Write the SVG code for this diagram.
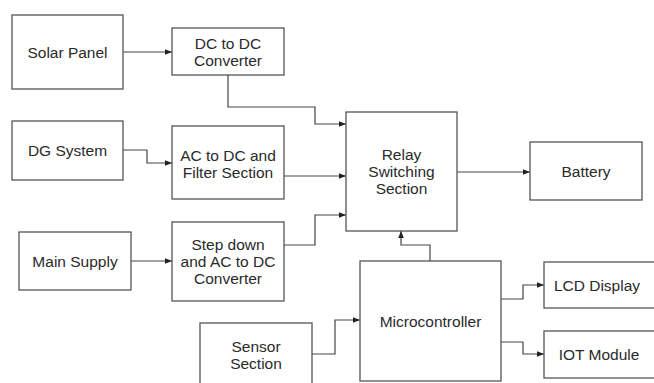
<svg xmlns="http://www.w3.org/2000/svg" width="654" height="383" viewBox="0 0 654 383">
<style>
.box{fill:#fff;stroke:#555;stroke-width:1.3}
.t{font-family:"Liberation Sans",Arial,sans-serif;font-size:15.5px;fill:#2a2a2a;text-anchor:middle}
.c{fill:none;stroke:#444;stroke-width:1.2;marker-end:url(#ah)}
</style>
<defs>
<marker id="ah" viewBox="0 0 10 10" refX="10" refY="5" markerWidth="7" markerHeight="7" markerUnits="userSpaceOnUse" orient="auto">
<path d="M0,1 L10,5 L0,9 z" fill="#222"/>
</marker>
</defs>
<rect width="654" height="383" fill="#fff"/>
<g id="connectors">
<path class="c" d="M123,52 H172"/>
<path class="c" d="M228,75 V107 H315 V124 H346"/>
<path class="c" d="M123,150 H147 V163 H172"/>
<path class="c" d="M284,176 H346"/>
<path class="c" d="M131,261 H172"/>
<path class="c" d="M284,245 H315 V215 H346"/>
<path class="c" d="M457,172 H530"/>
<path class="c" d="M312,354 H335 V320 H360"/>
<path class="c" d="M430,261 V245 H401 V231"/>
<path class="c" d="M501,299 H523 V285 H544"/>
<path class="c" d="M501,342 H523 V354 H544"/>
</g>
<g id="solar"><rect class="box" x="12" y="15" width="111" height="74"/><text class="t" x="67.5" y="57.5">Solar Panel</text></g>
<g id="dcdc"><rect class="box" x="172" y="28" width="112" height="47"/><text class="t" x="228" y="48.5">DC to DC</text><text class="t" x="228" y="66">Converter</text></g>
<g id="dg"><rect class="box" x="12" y="121" width="111" height="59"/><text class="t" x="67.5" y="155.5">DG System</text></g>
<g id="acdc"><rect class="box" x="172" y="126" width="112" height="73"/><text class="t" x="228" y="160.5">AC to DC and</text><text class="t" x="228" y="177.5">Filter Section</text></g>
<g id="main"><rect class="box" x="19" y="232" width="112" height="58"/><text class="t" x="75" y="266.5">Main Supply</text></g>
<g id="stepdown"><rect class="box" x="172" y="222" width="112" height="79"/><text class="t" x="228" y="250">Step down</text><text class="t" x="228" y="267">and AC to DC</text><text class="t" x="228" y="284">Converter</text></g>
<g id="relay"><rect class="box" x="346" y="112" width="111" height="119"/><text class="t" x="401.5" y="160">Relay</text><text class="t" x="401.5" y="177">Switching</text><text class="t" x="401.5" y="194">Section</text></g>
<g id="battery"><rect class="box" x="530" y="142" width="112" height="58"/><text class="t" x="586" y="177">Battery</text></g>
<g id="sensor"><rect class="box" x="200" y="323" width="112" height="70"/><text class="t" x="256" y="352">Sensor</text><text class="t" x="256" y="369">Section</text></g>
<g id="micro"><rect class="box" x="360" y="261" width="141" height="120"/><text class="t" x="430.5" y="326.5">Microcontroller</text></g>
<g id="lcd"><rect class="box" x="544" y="262" width="120" height="46"/><text class="t" x="597" y="290.5">LCD Display</text></g>
<g id="iot"><rect class="box" x="544" y="331" width="120" height="47"/><text class="t" x="599" y="359.5">IOT Module</text></g>
</svg>
